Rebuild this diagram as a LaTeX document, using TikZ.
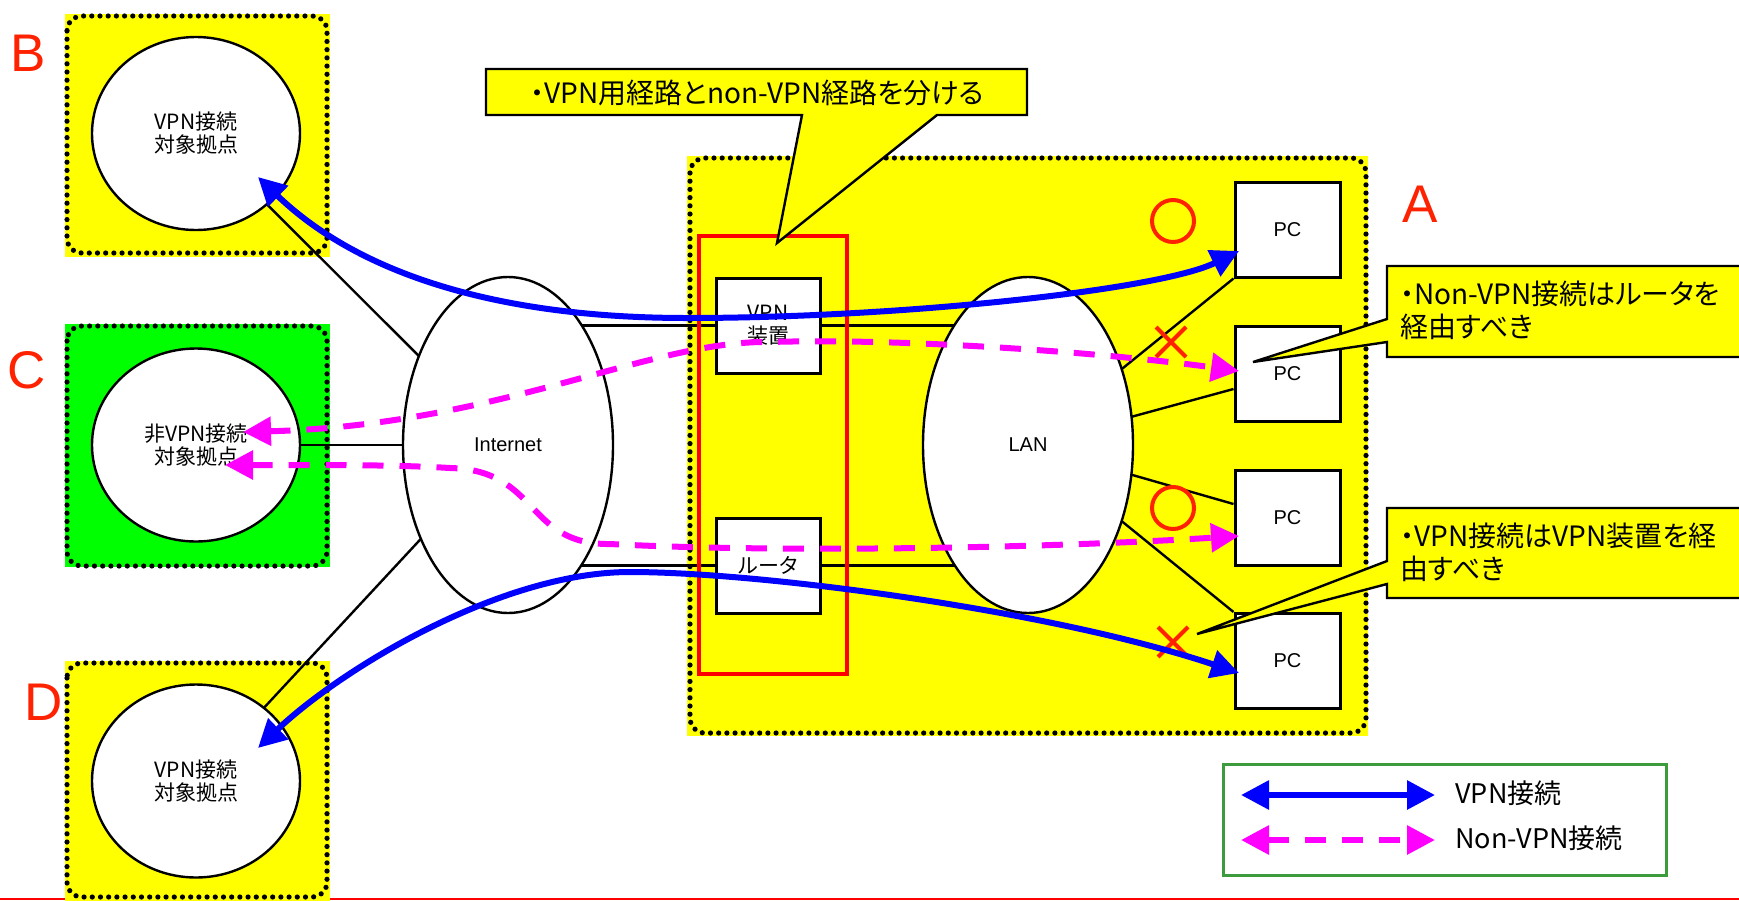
\documentclass[tikz,border=0pt]{standalone}
\usepackage{fontspec}
\setmainfont{Liberation Sans}
\newfontfamily\jp[RawFeature=+palt]{Noto Sans CJK JP}
\usetikzlibrary{arrows.meta,shapes.geometric,shapes.misc}
\definecolor{lred}{RGB}{255,34,0}
\definecolor{lgrn}{RGB}{60,155,60}
\definecolor{vyel}{RGB}{255,255,0}
\definecolor{vgrn}{RGB}{0,255,0}
\definecolor{vblu}{RGB}{0,0,255}
\definecolor{vmag}{RGB}{255,0,255}
\definecolor{vred}{RGB}{255,0,0}
\pgfdeclarelayer{bg}
\pgfdeclarelayer{lk}
\pgfsetlayers{bg,lk,main}
\tikzset{
  site/.style={ellipse, draw, line width=1.2pt, fill=white, minimum width=104pt, minimum height=96.5pt, inner sep=0pt, align=center, font=\jp\fontsize{10.5}{11.5}\selectfont},
  cloudnet/.style={ellipse, draw, line width=1.2pt, fill=white, minimum width=105pt, minimum height=168pt, inner sep=0pt, font=\fontsize{10}{12}\selectfont},
  pcbox/.style={draw, line width=1.5pt, fill=white, minimum width=52.5pt, minimum height=47.5pt, inner sep=0pt, font=\fontsize{10}{12}\selectfont},
  devbox/.style={draw, line width=1.5pt, fill=white, minimum width=52pt, minimum height=47.5pt, inner sep=0pt, align=center, font=\jp\fontsize{10.5}{11.5}\selectfont},
  link/.style={line width=1.2pt},
  zone/.style={draw, line width=2.6pt, dash pattern=on 0pt off 4.1pt, line cap=round, rounded corners=7.5pt},
  tipshape/.style={{Triangle[length=14pt,width=14pt]}-{Triangle[length=14pt,width=14pt]}},
  vpnline/.style={line width=3pt, vblu, tipshape},
  novpnline/.style={line width=3pt, vmag, dash pattern=on 10.5pt off 8pt, tipshape},
  callout/.style={draw, line width=1.2pt, fill=vyel},
  calltext/.style={inner sep=0pt, align=left, font=\jp\fontsize{14}{16.5}\selectfont},
  okmark/.style={circle, draw=lred, line width=2pt, minimum size=21pt, inner sep=0pt},
  ngmark/.style={cross out, draw=lred, line width=2pt, minimum size=13pt, inner sep=0pt},
  letter/.style={text=lred, inner sep=0pt, font=\fontsize{26.5}{30}\selectfont},
  legtext/.style={inner sep=0pt, anchor=west, font=\jp\fontsize{13.5}{16}\selectfont}
}
\begin{document}
\begin{tikzpicture}[x=0.5pt,y=-0.5pt]
\useasboundingbox (0,0) rectangle (1739,900);
\clip (0,0) rectangle (1739,900);

% background zones
\begin{pgfonlayer}{bg}
  \fill[white] (0,0) rectangle (1739,900);
  \draw[vred, line width=1pt] (0,899) -- (1739,899);
  \fill[vyel] (65,14) rectangle (330,257);
  \draw[zone] (67,16) rectangle (327,253);
  \fill[vgrn] (65,324) rectangle (330,567);
  \draw[zone] (67,326) rectangle (327,566);
  \fill[vyel] (65,661) rectangle (330,905);
  \draw[zone] (67,663) rectangle (327,897);
  \fill[vyel] (687,156) rectangle (1368,736);
  \draw[zone] (690,158) rectangle (1366,733);
\end{pgfonlayer}

% sites and networks
\node[site] (b) at (196,133.5) {VPN接続\\対象拠点};
\node[site] (c) at (196,445) {非VPN接続\\対象拠点};
\node[site] (d) at (196,781) {VPN接続\\対象拠点};
\node[cloudnet] (inet) at (508,445) {Internet};
\node[cloudnet] (lan) at (1028,445) {LAN};

\node[draw=vred, line width=2pt, minimum width=74pt, minimum height=219pt, inner sep=0pt] (grp) at (773,455) {};
\node[devbox] (vpn) at (768,325.5) {VPN\\装置};
\node[devbox] (rtr) at (768,565.5) {ルータ};

\node[pcbox] (pc1) at (1287.5,229.5) {PC};
\node[pcbox] (pc2) at (1287.5,374) {PC};
\node[pcbox] (pc3) at (1287.5,517.5) {PC};
\node[pcbox] (pc4) at (1287.5,661) {PC};

% links
\begin{pgfonlayer}{lk}
  \draw[link] (b.center) -- (inet.center);
  \draw[link] (c.center) -- (inet.center);
  \draw[link] (d.center) -- (inet.center);
  \draw[link] (inet.center |- vpn.west) -- (vpn.west);
  \draw[link] (vpn.east) -- (lan.center |- vpn.east);
  \draw[link] (inet.center |- rtr.west) -- (rtr.west);
  \draw[link] (rtr.east) -- (lan.center |- rtr.east);
  \draw[link] (lan.center) -- (pc1.south west);
  \draw[link] (lan.center) -- ([yshift=-7.5pt]pc2.west);
  \draw[link] (lan.center) -- ([yshift=6.75pt]pc3.west);
  \draw[link] (lan.center) -- (pc4.north west);
\end{pgfonlayer}

% marks
\node[okmark] (ok1) at (1173,221) {};
\node[okmark] (ok2) at (1173,508) {};
\node[ngmark] (ng1) at (1171,342) {};
\node[ngmark] (ng2) at (1173,642) {};

% connections
\coordinate (bt) at (258,177);
\coordinate (dt) at (258,748);
\coordinate (ct1) at (243,432);
\coordinate (ct2) at (225,465);
\coordinate (pc1t) at (1239,251);
\coordinate (pc2t) at (1239,371);
\coordinate (pc3t) at (1239,536);
\coordinate (pc4t) at (1239,673);

\draw[vpnline] (bt) .. controls (360,275) and (500,318) .. (687,318)
  .. controls (900,318) and (1160,290) .. (pc1t);
\draw[vpnline] (dt) .. controls (340,670) and (500,572) .. (630,572)
  .. controls (760,572) and (1050,610) .. (pc4t);
\draw[novpnline] (ct1) .. controls (500,425) and (650,340) .. (770,342)
  .. controls (900,338) and (1100,352) .. (pc2t);
\draw[novpnline] (ct2) .. controls (350,465) and (400,465) .. (450,468)
  .. controls (540,470) and (525,545) .. (610,544)
  .. controls (780,553) and (1050,548) .. (pc3t);

% callouts
\coordinate (cp1) at (777,243);
\coordinate (cp2) at (1253,362);
\coordinate (cp3) at (1197,634);
\draw[callout] (486,69) -- (1027,69) -- (1027,115) -- (937,115) -- (cp1) -- (802,115) -- (486,115) -- cycle;
\node[calltext] (t1) at (757,93) {・VPN用経路とnon-VPN経路を分ける};
\draw[callout] (1387,266) -- (1760,266) -- (1760,357) -- (1387,357) -- (1387,342) -- (cp2) -- (1387,319) -- cycle;
\node[calltext, anchor=west] (t2) at (1400,310) {・Non-VPN接続はルータを\\経由すべき};
\draw[callout] (1387,508) -- (1760,508) -- (1760,598) -- (1387,598) -- (1387,584) -- (cp3) -- (1387,561) -- cycle;
\node[calltext, anchor=west] (t3) at (1400,552.5) {・VPN接続はVPN装置を経\\由すべき};

% legend
\node[draw=lgrn, line width=1.5pt, minimum width=221.5pt, minimum height=55.5pt, inner sep=0pt] (lg) at (1444.5,819.5) {};
\coordinate (la1) at (1241,795);
\coordinate (la2) at (1435,795);
\coordinate (lb1) at (1241,840);
\coordinate (lb2) at (1435,840);
\draw[vpnline] (la1) -- (la2);
\draw[novpnline] (lb1) -- (lb2);
\node[legtext] (lt1) at (1455,793) {VPN接続};
\node[legtext] (lt2) at (1455,838) {Non-VPN接続};

% site letters
\node[letter] (la) at (1420,204) {A};
\node[letter] (lbb) at (28,53) {B};
\node[letter] (lc) at (27,370) {C};
\node[letter] (ld) at (44,702) {D};
\end{tikzpicture}
\end{document}
